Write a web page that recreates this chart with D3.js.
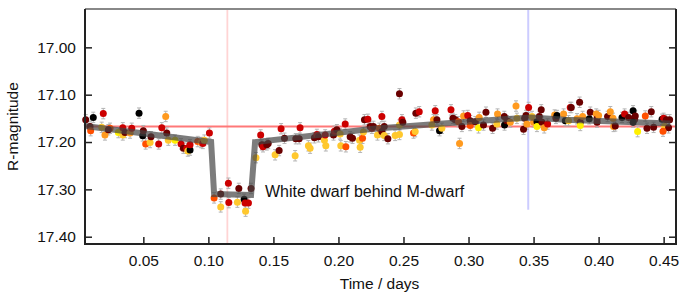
<!DOCTYPE html>
<html>
<head>
<meta charset="utf-8">
<script src="https://cdn.jsdelivr.net/npm/d3@7"></script>
<style>
  body { margin: 0; background: #fff; }
  svg text { font-family: "Liberation Sans", Arial, Helvetica, sans-serif; fill: #111; }
</style>
</head>
<body>
<svg id="chart" width="690" height="292"></svg>
<script>
// observations: [time (days), R-magnitude, colour key]
const observations = [
  [0.0057,17.153,'d'],[0.0090,17.167,'d'],[0.0095,17.176,'o'],[0.0115,17.148,'k'],
  [0.0192,17.140,'r'],[0.0180,17.169,'y'],[0.0205,17.185,'a'],[0.0244,17.171,'o'],
  [0.0231,17.174,'d'],[0.0308,17.180,'Y'],[0.0342,17.170,'r'],[0.0342,17.185,'y'],
  [0.0359,17.180,'d'],[0.0398,17.181,'a'],[0.0411,17.171,'r'],[0.0467,17.139,'k'],
  [0.0495,17.187,'k'],[0.0500,17.176,'d'],[0.0518,17.204,'o'],[0.0552,17.201,'y'],
  [0.0559,17.189,'d'],[0.0618,17.204,'r'],[0.0642,17.170,'r'],[0.0672,17.146,'a'],
  [0.0680,17.181,'d'],[0.0692,17.196,'y'],[0.0744,17.196,'Y'],[0.0790,17.204,'r'],
  [0.0808,17.213,'d'],[0.0834,17.213,'r'],[0.0842,17.219,'y'],[0.0859,17.217,'k'],
  [0.0859,17.206,'r'],[0.0918,17.199,'o'],[0.0944,17.201,'a'],[0.0957,17.203,'r'],
  [0.0969,17.196,'y'],[0.1008,17.181,'r'],
  // eclipse
  [0.1044,17.318,'o'],[0.1095,17.310,'d'],[0.1095,17.337,'y'],[0.1154,17.287,'r'],
  [0.1157,17.328,'r'],[0.1223,17.327,'y'],[0.1234,17.298,'d'],[0.1275,17.321,'k'],
  [0.1282,17.329,'r'],[0.1308,17.329,'r'],[0.1286,17.346,'y'],[0.1328,17.298,'d'],
  // after eclipse
  [0.1366,17.233,'y'],[0.1402,17.185,'r'],[0.1411,17.206,'d'],[0.1420,17.210,'r'],
  [0.1449,17.206,'d'],[0.1460,17.203,'d'],[0.1513,17.227,'y'],[0.1544,17.218,'d'],
  [0.1559,17.172,'r'],[0.1585,17.192,'d'],[0.1667,17.229,'y'],[0.1672,17.193,'d'],
  [0.1698,17.193,'d'],[0.1705,17.170,'r'],[0.1769,17.208,'y'],[0.1782,17.213,'y'],
  [0.1815,17.191,'d'],[0.1834,17.184,'r'],[0.1846,17.189,'d'],[0.1892,17.196,'y'],
  [0.1903,17.208,'y'],[0.1898,17.185,'r'],[0.1962,17.185,'d'],[0.1969,17.177,'r'],
  [0.1988,17.174,'d'],[0.2013,17.183,'y'],[0.2018,17.208,'y'],[0.2052,17.162,'r'],
  [0.2057,17.210,'o'],[0.2090,17.189,'d'],[0.2108,17.192,'d'],[0.2162,17.196,'y'],
  [0.2167,17.211,'y'],[0.2185,17.192,'o'],[0.2192,17.179,'y'],[0.2200,17.153,'d'],
  [0.2226,17.152,'r'],[0.2244,17.167,'d'],[0.2257,17.171,'r'],[0.2269,17.167,'d'],
  [0.2300,17.185,'y'],[0.2315,17.171,'o'],[0.2334,17.146,'r'],[0.2334,17.178,'d'],
  [0.2352,17.167,'d'],[0.2352,17.186,'y'],[0.2380,17.193,'d'],[0.2436,17.186,'y'],
  [0.2469,17.184,'y'],[0.2469,17.164,'y'],[0.2469,17.098,'d'],[0.2488,17.153,'r'],
  [0.2495,17.158,'d'],[0.2577,17.181,'o'],[0.2590,17.178,'y'],[0.2595,17.139,'d'],
  [0.2621,17.136,'r'],[0.2718,17.164,'y'],[0.2731,17.153,'a'],[0.2744,17.134,'r'],
  [0.2757,17.153,'d'],[0.2777,17.176,'k'],[0.2795,17.171,'y'],[0.2865,17.132,'r'],
  [0.2880,17.150,'d'],[0.2898,17.153,'d'],[0.2923,17.157,'o'],[0.2931,17.203,'a'],
  [0.2949,17.167,'d'],[0.2962,17.145,'a'],[0.2994,17.144,'r'],[0.3013,17.155,'d'],
  [0.3013,17.165,'o'],[0.3052,17.157,'d'],[0.3077,17.170,'Y'],[0.3082,17.148,'a'],
  [0.3115,17.164,'d'],[0.3134,17.137,'d'],[0.3185,17.171,'d'],[0.3218,17.162,'y'],
  [0.3223,17.141,'a'],[0.3275,17.146,'d'],[0.3277,17.164,'k'],[0.3295,17.155,'d'],
  [0.3321,17.158,'a'],[0.3365,17.124,'a'],[0.3372,17.150,'y'],[0.3423,17.173,'d'],
  [0.3431,17.150,'d'],[0.3442,17.144,'d'],[0.3449,17.162,'a'],[0.3462,17.127,'r'],
  [0.3488,17.146,'y'],[0.3500,17.158,'a'],[0.3526,17.157,'k'],[0.3526,17.167,'Y'],
  [0.3544,17.146,'d'],[0.3559,17.132,'d'],[0.3565,17.158,'d'],[0.3582,17.170,'a'],
  [0.3608,17.162,'r'],[0.3662,17.143,'a'],[0.3672,17.150,'d'],[0.3680,17.144,'k'],
  [0.3731,17.141,'a'],[0.3744,17.155,'k'],[0.3769,17.155,'y'],[0.3782,17.127,'r'],
  [0.3790,17.127,'d'],[0.3854,17.116,'d'],[0.3834,17.151,'a'],[0.3859,17.158,'d'],
  [0.3859,17.165,'Y'],[0.3877,17.146,'a'],[0.3928,17.151,'k'],[0.3936,17.137,'d'],
  [0.3982,17.141,'a'],[0.3988,17.151,'d'],[0.4000,17.144,'a'],[0.3988,17.158,'d'],
  [0.4069,17.146,'d'],[0.4090,17.136,'a'],[0.4111,17.150,'a'],[0.4115,17.167,'a'],
  [0.4128,17.166,'d'],[0.4180,17.148,'k'],[0.4200,17.141,'r'],[0.4231,17.148,'d'],
  [0.4265,17.134,'k'],[0.4282,17.145,'d'],[0.4277,17.152,'d'],[0.4265,17.158,'k'],
  [0.4300,17.178,'Y'],[0.4359,17.145,'o'],[0.4372,17.171,'d'],[0.4405,17.136,'d'],
  [0.4423,17.169,'d'],[0.4488,17.152,'k'],[0.4500,17.150,'r'],[0.4521,17.153,'d'],
  [0.4546,17.153,'d'],[0.4508,17.167,'y'],[0.4538,17.170,'d'],[0.4495,17.177,'o']
];
const magError = 0.011;

// eclipse model (thick grey line)
const modelTime = [0.0051, 0.1021, 0.1044, 0.1328, 0.1359, 0.2269, 0.2936, 0.3480, 0.3744, 0.4551];
const modelMag  = [17.166, 17.200, 17.310, 17.312, 17.200, 17.172, 17.158, 17.148, 17.153, 17.161];

const meanMag = 17.167;
const redLineTime = 0.1146;
const blueLineTime = 0.3459;
const blueLineEnd = 17.343;

const xTicks = [0.05, 0.10, 0.15, 0.20, 0.25, 0.30, 0.35, 0.40, 0.45];
const yTicks = [17.00, 17.10, 17.20, 17.30, 17.40];

const colours = {
  k: '#000000', d: '#6a0000', r: '#cc0000', o: '#ff4f00',
  a: '#ff9a1f', y: '#ffc82e', Y: '#fff000'
};

const svg = d3.select('#chart');
const plotL = 85, plotR = 676, plotT = 9, plotB = 244;

const x = d3.scaleLinear().domain([0.00515, 0.4595]).range([plotL, plotR]);
const y = d3.scaleLinear().domain([16.919, 17.4154]).range([plotT, plotB]);

// reference lines
svg.append('line')
  .attr('x1', x(redLineTime)).attr('x2', x(redLineTime))
  .attr('y1', plotT).attr('y2', plotB)
  .attr('stroke', '#ffd4d4').attr('stroke-width', 1.8);
svg.append('line')
  .attr('x1', x(blueLineTime)).attr('x2', x(blueLineTime))
  .attr('y1', plotT).attr('y2', y(blueLineEnd))
  .attr('stroke', '#ccccff').attr('stroke-width', 2);
svg.append('line')
  .attr('x1', plotL).attr('x2', plotR)
  .attr('y1', y(meanMag)).attr('y2', y(meanMag))
  .attr('stroke', '#ff7878').attr('stroke-width', 2);

// error bars + points
const pts = svg.append('g');
const eb = pts.selectAll('g.eb').data(observations).enter().append('g')
  .attr('stroke', '#b4b4b4').attr('stroke-width', 1);
eb.append('line')
  .attr('x1', d => x(d[0])).attr('x2', d => x(d[0]))
  .attr('y1', d => y(d[1] - magError)).attr('y2', d => y(d[1] + magError));
eb.append('line')
  .attr('x1', d => x(d[0]) - 2).attr('x2', d => x(d[0]) + 2)
  .attr('y1', d => y(d[1] - magError)).attr('y2', d => y(d[1] - magError));
eb.append('line')
  .attr('x1', d => x(d[0]) - 2).attr('x2', d => x(d[0]) + 2)
  .attr('y1', d => y(d[1] + magError)).attr('y2', d => y(d[1] + magError));
pts.selectAll('circle').data(observations).enter().append('circle')
  .attr('cx', d => x(d[0]))
  .attr('cy', d => y(d[1]))
  .attr('r', 3.5)
  .attr('fill', d => colours[d[2]]);

// model line, semi-transparent on top
const model = modelTime.map((t, i) => [t, modelMag[i]]);
svg.append('path')
  .datum(model)
  .attr('d', d3.line().x(d => x(d[0])).y(d => y(d[1])))
  .attr('fill', 'none')
  .attr('stroke', '#444')
  .attr('stroke-opacity', 0.7)
  .attr('stroke-width', 6)
  .attr('stroke-linejoin', 'miter');

// axes
const fmt = d3.format('.2f');
const gx = svg.append('g').attr('transform', `translate(0,${plotB})`)
  .call(d3.axisBottom(x).tickValues(xTicks).tickFormat(fmt).tickSize(-7).tickPadding(11));
const gy = svg.append('g').attr('transform', `translate(${plotL},0)`)
  .call(d3.axisLeft(y).tickValues(yTicks).tickFormat(fmt).tickSize(-7).tickPadding(9));
const gr = svg.append('g').attr('transform', `translate(${plotR},0)`)
  .call(d3.axisRight(y).tickValues(yTicks).tickFormat('').tickSize(-7));
[gx, gy, gr].forEach(g => {
  g.select('.domain').remove();
  g.selectAll('.tick line').attr('stroke', '#222').attr('stroke-width', 1.5);
  g.selectAll('.tick text').attr('font-size', 15.5).attr('font-family', null).attr('fill', '#111');
});

// frame
svg.append('line').attr('x1', plotL).attr('x2', plotR).attr('y1', plotT).attr('y2', plotT)
  .attr('stroke', '#888').attr('stroke-width', 2);
svg.append('path')
  .attr('d', `M${plotL},${plotT}V${plotB}H${plotR}V${plotT}`)
  .attr('fill', 'none').attr('stroke', '#222').attr('stroke-width', 2);

// labels
svg.append('text').attr('x', (plotL + plotR) / 2 - 1).attr('y', 289)
  .attr('text-anchor', 'middle').attr('font-size', 15.5).text('Time / days');
svg.append('text')
  .attr('transform', `translate(18,${(plotT + plotB) / 2}) rotate(-90)`)
  .attr('text-anchor', 'middle').attr('font-size', 15.5).text('R-magnitude');
svg.append('text').attr('x', 265).attr('y', 197)
  .attr('font-size', 16).text('White dwarf behind M-dwarf');
</script>
</body>
</html>
